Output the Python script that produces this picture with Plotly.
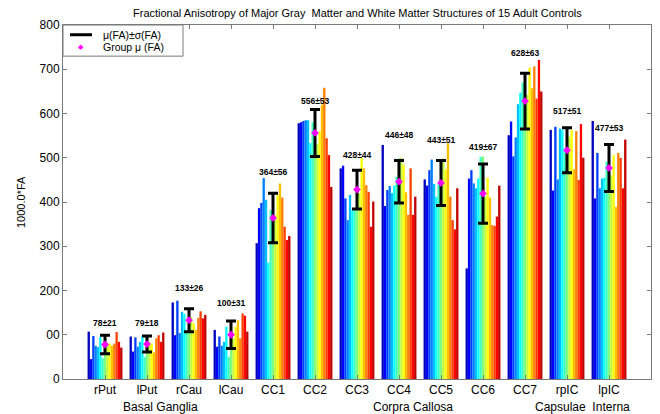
import plotly.graph_objects as go

categories = ["rPut", "lPut", "rCau", "lCau", "CC1", "CC2", "CC3", "CC4", "CC5",
              "CC6", "CC7", "rpIC", "lpIC"]

# 15 subjects per structure (subject 1..15)
fa_values = {
    "rPut": [107, 45, 97, 75, 72, 95, 47, 60, 81, 80, 75, 80, 106, 84, 71],
    "lPut": [96, 62, 94, 73, 84, 96, 50, 73, 84, 80, 60, 92, 99, 84, 105],
    "rCau": [173, 99, 177, 104, 152, 147, 104, 130, 140, 126, 111, 138, 153, 137, 145],
    "lCau": [111, 73, 96, 75, 84, 118, 50, 73, 92, 118, 133, 92, 148, 143, 107],
    "CC1": [307, 386, 398, 454, 405, 263, 382, 340, 370, 416, 442, 410, 344, 314, 323],
    "CC2": [578, 580, 583, 585, 585, 533, 580, 560, 530, 560, 620, 658, 544, 506, 434],
    "CC3": [476, 482, 408, 359, 416, 382, 386, 430, 420, 500, 476, 438, 423, 344, 401],
    "CC4": [529, 391, 427, 436, 420, 437, 457, 499, 500, 484, 422, 371, 476, 371, 412],
    "CC5": [451, 437, 472, 496, 441, 412, 442, 442, 499, 474, 533, 412, 359, 338, 431],
    "CC6": [250, 453, 472, 442, 431, 453, 502, 503, 412, 455, 410, 348, 346, 367, 437],
    "CC7": [551, 582, 503, 546, 621, 647, 670, 660, 642, 704, 657, 706, 634, 721, 650],
    "rpIC": [563, 426, 570, 451, 566, 563, 521, 518, 548, 563, 474, 560, 450, 576, 500],
    "lpIC": [583, 408, 511, 431, 453, 455, 491, 480, 460, 506, 389, 511, 500, 431, 541],
}

group_mean = [78, 79, 133, 100, 364, 556, 428, 446, 443, 419, 628, 517, 477]
group_sd = [21, 18, 26, 31, 56, 53, 44, 48, 51, 67, 63, 51, 53]
label_height = [127, 126, 205, 172, 468, 628, 506, 551, 540, 524, 736, 606, 568]

y_tick_vals = [0, 100, 200, 300, 400, 500, 600, 700, 800]
y_tick_text = ["0", "00", "200", "300", "400", "500", "600", "700", "800"]

region_labels = ["Basal Ganglia", "Corpra Callosa", "Capsulae  Interna"]
region_centers = [2.31, 8.33, 12.36]

legend_labels = ["\u03bc(FA)\u00b1\u03c3(FA)", "Group \u03bc (FA)"]

# MATLAB jet(15)
jet15 = [(0, 0, .75), (0, 0, 1), (0, .25, 1), (0, .5, 1), (0, .75, 1), (0, 1, 1),
         (.25, 1, .75), (.5, 1, .5), (.75, 1, .25), (1, 1, 0), (1, .75, 0),
         (1, .5, 0), (1, .25, 0), (1, 0, 0), (.75, 0, 0)]
colors = ["rgb(%d,%d,%d)" % tuple(round(c * 255) for c in rgb) for rgb in jet15]

FONT = "Arial, 'Liberation Sans', sans-serif"
AXC = "#7a7a7a"
xpos = list(range(1, len(categories) + 1))

fig = go.Figure()
for s in range(15):
    fig.add_trace(go.Bar(
        x=xpos, y=[fa_values[c][s] for c in categories],
        marker=dict(color=colors[s], line=dict(width=0)),
        showlegend=False, hoverinfo="skip"))

fig.add_trace(go.Scatter(
    x=xpos, y=group_mean, mode="markers",
    marker=dict(symbol="diamond", color="#ff00ff", size=6),
    error_y=dict(type="data", array=group_sd, color="black", thickness=3, width=5),
    name=legend_labels[1], showlegend=False))

for i, c in enumerate(categories):
    fig.add_annotation(x=xpos[i], y=label_height[i],
                       text="<b>%d\u00b1%d</b>" % (group_mean[i], group_sd[i]),
                       showarrow=False, font=dict(family=FONT, size=8.5, color="black"))

for lab, cx in zip(region_labels, region_centers):
    fig.add_annotation(x=cx, xref="x", xanchor="center", y=-0.079, yref="paper",
                       yanchor="middle", text=lab, showarrow=False,
                       font=dict(family=FONT, size=12, color="black"))

fig.add_annotation(x=0.5, xref="paper", xanchor="center", y=1, yref="paper",
                   yanchor="bottom", yshift=4,
                   text="Fractional Anisotropy of Major Gray  Matter and White Matter Structures of 15 Adult Controls",
                   showarrow=False, font=dict(family=FONT, size=11, color="black"))
fig.add_annotation(x=-0.0714, xref="paper", xanchor="center", y=0.5, yref="paper",
                   yanchor="middle", textangle=-90,
                   text="1000.0*FA", showarrow=False,
                   font=dict(family=FONT, size=11, color="black"))

# legend box (drawn manually to match the compact MATLAB legend)
fig.add_shape(type="rect", xref="paper", yref="paper", x0=0, x1=0.2041, y0=0.912, y1=1,
              line=dict(color=AXC, width=1), fillcolor="white", layer="above")
fig.add_shape(type="line", xref="paper", yref="paper", x0=0.0119, x1=0.0493,
              y0=0.9725, y1=0.9725, line=dict(color="black", width=3), layer="above")
fig.add_annotation(x=0.0306, xref="paper", xanchor="center", y=0.9365, yref="paper",
                   yanchor="middle", text="\u25c6", showarrow=False, borderpad=0,
                   font=dict(family="DejaVu Sans", size=7, color="#ff00ff"))
for lab, yy in zip(legend_labels, [0.9725, 0.9365]):
    fig.add_annotation(x=0.0663, xref="paper", xanchor="left", y=yy, yref="paper",
                       yanchor="middle", text=lab, showarrow=False, borderpad=0,
                       font=dict(family=FONT, size=10.5, color="black"))

fig.update_layout(
    width=652, height=406,
    margin=dict(l=55, r=9, t=17, b=35),
    paper_bgcolor="white", plot_bgcolor="white",
    barmode="group", bargap=0.17, bargroupgap=0,
    font=dict(family=FONT, size=12, color="black"),
    showlegend=False,
    xaxis=dict(range=[0, 14], tickvals=xpos, ticktext=categories,
               showline=True, linecolor=AXC, mirror="ticks",
               ticks="inside", ticklen=4, tickcolor=AXC,
               showgrid=False, zeroline=False),
    yaxis=dict(range=[0, 800], tickvals=y_tick_vals, ticktext=y_tick_text,
               showline=True, linecolor=AXC, mirror="ticks",
               ticks="inside", ticklen=4, tickcolor=AXC,
               showgrid=False, zeroline=False),
)
fig.write_html("out.html")
